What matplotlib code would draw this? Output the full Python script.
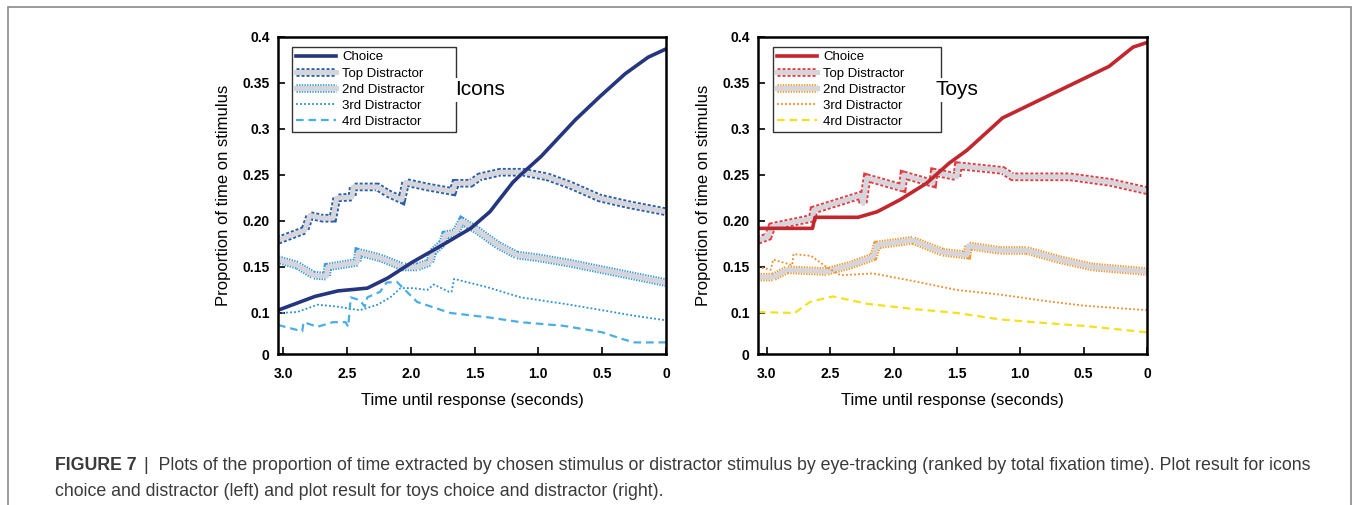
import numpy as np
import matplotlib
matplotlib.use('Agg')
import matplotlib.pyplot as plt
from matplotlib.patches import Rectangle

plt.rcParams['font.family'] = ['Liberation Sans', 'DejaVu Sans']
plt.rcParams['lines.scale_dashes'] = False

# Icons panel (left)
iconChoiceX = [3.04, 2.75, 2.57, 2.34, 2.18, 1.99, 1.75, 1.53, 1.38, 1.2, 1.14, 0.98, 0.71, 0.52, 0.32, 0.14, 0.0]
iconChoiceY = [0.103, 0.118, 0.124, 0.127, 0.138, 0.155, 0.174, 0.192, 0.21, 0.242, 0.25, 0.27, 0.31, 0.335, 0.36, 0.378, 0.387]
iconTopX = [3.04, 2.83, 2.79, 2.69, 2.61, 2.58, 2.46, 2.45, 2.26, 2.18, 2.07, 2.04, 1.87, 1.67, 1.65, 1.53, 1.46, 1.30, 1.12, 0.93, 0.75, 0.52, 0.3, 0.0]
iconTopY = [0.179, 0.19, 0.206, 0.203, 0.203, 0.225, 0.226, 0.237, 0.237, 0.23, 0.223, 0.242, 0.237, 0.232, 0.241, 0.241, 0.248, 0.253, 0.253, 0.248, 0.239, 0.225, 0.218, 0.21]
iconSecondX = [3.04, 2.89, 2.76, 2.66, 2.65, 2.42, 2.41, 2.24, 2.06, 1.95, 1.85, 1.83, 1.75, 1.73, 1.65, 1.6, 1.48, 1.32, 1.17, 1.0, 0.75, 0.5, 0.25, 0.0]
iconSecondY = [0.158, 0.152, 0.141, 0.14, 0.15, 0.155, 0.166, 0.16, 0.15, 0.15, 0.155, 0.166, 0.176, 0.185, 0.187, 0.2, 0.19, 0.174, 0.163, 0.16, 0.154, 0.147, 0.14, 0.133]
iconThirdX = [3.04, 2.89, 2.73, 2.58, 2.4, 2.26, 2.16, 2.08, 1.98, 1.87, 1.82, 1.7, 1.68, 1.66, 1.4, 1.14, 0.8, 0.5, 0.25, 0.0]
iconThirdY = [0.1, 0.101, 0.109, 0.107, 0.103, 0.109, 0.117, 0.127, 0.127, 0.125, 0.131, 0.123, 0.123, 0.137, 0.128, 0.117, 0.11, 0.103, 0.097, 0.092]
iconFourthX = [3.04, 2.85, 2.84, 2.73, 2.61, 2.51, 2.49, 2.47, 2.4, 2.36, 2.34, 2.24, 2.19, 2.11, 1.95, 1.69, 1.38, 1.14, 0.8, 0.5, 0.35, 0.25, 0.0]
iconFourthY = [0.087, 0.08, 0.09, 0.085, 0.09, 0.09, 0.085, 0.117, 0.114, 0.107, 0.117, 0.123, 0.133, 0.134, 0.112, 0.1, 0.095, 0.09, 0.086, 0.079, 0.072, 0.068, 0.068]

# Toys panel (right)
toyChoiceX = [3.07, 2.64, 2.62, 2.28, 2.13, 1.95, 1.74, 1.56, 1.42, 1.14, 0.69, 0.3, 0.11, 0.0]
toyChoiceY = [0.192, 0.192, 0.204, 0.204, 0.21, 0.223, 0.241, 0.263, 0.277, 0.312, 0.342, 0.368, 0.389, 0.394]
toyTopX = [3.07, 2.99, 2.96, 2.64, 2.63, 2.26, 2.24, 2.21, 1.93, 1.92, 1.69, 1.68, 1.5, 1.49, 1.14, 1.06, 0.61, 0.29, 0.0]
toyTopY = [0.179, 0.183, 0.194, 0.203, 0.212, 0.228, 0.219, 0.247, 0.236, 0.25, 0.241, 0.253, 0.248, 0.26, 0.255, 0.248, 0.248, 0.242, 0.233]
toySecondX = [3.07, 2.95, 2.84, 2.53, 2.34, 2.16, 2.13, 1.85, 1.61, 1.42, 1.41, 1.16, 0.95, 0.69, 0.43, 0.0]
toySecondY = [0.139, 0.139, 0.147, 0.145, 0.152, 0.161, 0.174, 0.179, 0.166, 0.163, 0.173, 0.168, 0.168, 0.158, 0.15, 0.145]
toyThirdX = [3.07, 2.97, 2.95, 2.8, 2.79, 2.65, 2.53, 2.42, 2.16, 1.82, 1.5, 1.16, 0.8, 0.5, 0.0]
toyThirdY = [0.15, 0.147, 0.158, 0.152, 0.164, 0.162, 0.15, 0.141, 0.143, 0.134, 0.125, 0.12, 0.113, 0.108, 0.103]
toyFourthX = [3.07, 2.78, 2.66, 2.48, 2.21, 1.82, 1.5, 1.16, 0.8, 0.5, 0.0]
toyFourthY = [0.101, 0.1, 0.112, 0.118, 0.11, 0.104, 0.1, 0.093, 0.089, 0.086, 0.079]

seriesNames = ['Choice', 'Top Distractor', '2nd Distractor', '3rd Distractor', '4rd Distractor']
yBottom = 0.0554  # the axis is cut: the "0" label sits at this height
yTicks = [yBottom, 0.1, 0.15, 0.2, 0.25, 0.3, 0.35, 0.4]
yTickLabels = ['0', '0.1', '0.15', '0.20', '0.25', '0.3', '0.35', '0.4']
xTicks = [3.0, 2.5, 2.0, 1.5, 1.0, 0.5, 0.0]
xTickLabels = ['3.0', '2.5', '2.0', '1.5', '1.0', '0.5', '0']

captionHead = 'FIGURE 7'
captionLine1 = '|  Plots of the proportion of time extracted by chosen stimulus or distractor stimulus by eye-tracking (ranked by total fixation time). Plot result for icons'
captionLine2 = 'choice and distractor (left) and plot result for toys choice and distractor (right).'

BAND = '#d5d5db'

def band(ax, x, y, edge, dashes):
	#gray thick line with a broken coloured outline
	outer, = ax.plot(x, y, color=edge, lw=6.2, dashes=dashes, solid_joinstyle='miter', dash_joinstyle='miter')
	inner, = ax.plot(x, y, color=BAND, lw=3.6)
	return (outer, inner)

def drawPanel(ax, data, colors, xLeft, title, legBox):
	(cx, cy), (tx, ty), (sx, sy), (thx, thy), (fx, fy) = data
	h2 = band(ax, sx, sy, colors[2], (1.0, 0.9))
	h1 = band(ax, tx, ty, colors[1], (2.2, 1.4))
	h3, = ax.plot(thx, thy, color=colors[3], lw=1.3, dashes=(1.3, 1.6))
	h4, = ax.plot(fx, fy, color=colors[4], lw=1.6, dashes=(5.5, 3.5))
	h0, = ax.plot(cx, cy, color=colors[0], lw=2.6)
	ax.set_xlim(xLeft, 0)
	ax.set_ylim(yBottom, 0.4)
	ax.set_xticks(xTicks)
	ax.set_xticklabels(xTickLabels, fontweight='bold', fontsize=10)
	ax.set_yticks(yTicks)
	ax.set_yticklabels(yTickLabels, fontweight='bold', fontsize=10)
	ax.tick_params(direction='in', length=5, width=1.2)
	ax.tick_params(axis='x', pad=9)
	ax.tick_params(axis='y', pad=6)
	for s in ax.spines.values():
		s.set_linewidth(1.8)
	ax.set_xlabel('Time until response (seconds)', fontsize=12, labelpad=9)
	ax.set_ylabel('Proportion of time on stimulus', fontsize=12, labelpad=8)
	leg = ax.legend([h0, h1, h2, h3, h4], seriesNames, loc='upper left', bbox_to_anchor=legBox,
		mode='expand', borderaxespad=0, fontsize=9.5, handlelength=3.0, handletextpad=0.5,
		labelspacing=0.3, borderpad=0.3, fancybox=False, edgecolor='#333333', framealpha=1)
	leg.get_frame().set_linewidth(1.0)
	leg.set_zorder(5)
	#the panel name sits on the legend border, with a white patch behind it
	ax.text(0.456, 0.833, title, transform=ax.transAxes, fontsize=15, va='center', ha='left', zorder=6,
		bbox=dict(facecolor='white', edgecolor='none', pad=1.5))

fig = plt.figure(figsize=(13.55, 5.05), dpi=100)
axL = fig.add_axes([278/1355, 1-354/505, 388/1355, 317/505])
axR = fig.add_axes([758/1355, 1-354/505, 389/1355, 317/505])

drawPanel(axL, [(iconChoiceX, iconChoiceY), (iconTopX, iconTopY), (iconSecondX, iconSecondY),
	(iconThirdX, iconThirdY), (iconFourthX, iconFourthY)],
	['#25367f', '#2a5ea9', '#3a9ae0', '#2a8ed8', '#4aaee6'], 3.04, 'Icons', (0.036, 0.70, 0.423, 0.268))
drawPanel(axR, [(toyChoiceX, toyChoiceY), (toyTopX, toyTopY), (toySecondX, toySecondY),
	(toyThirdX, toyThirdY), (toyFourthX, toyFourthY)],
	['#c1272d', '#e63a3f', '#f3982a', '#f28a2a', '#f3e11c'], 3.07, 'Toys', (0.0386, 0.70, 0.432, 0.268))

#page frame
fig.patches.append(Rectangle((8/1355, -0.05), 1343/1355, 1.05-7/505, transform=fig.transFigure,
	fill=False, edgecolor='#8a8a8a', linewidth=1.2))

#caption: the first line is fitted to the width it has in the page
capColor = '#3a3a3a'
size = 10.0
head = fig.text(55/1355, 1-465/505, captionHead, fontsize=size, fontweight='bold', color=capColor, va='center')
body = fig.text(130/1355, 1-465/505, captionLine1, fontsize=size, color=capColor, va='center')
r = fig.canvas.get_renderer()
for i in range(3):
	fig.canvas.draw()
	x0 = head.get_window_extent(r).x1 + 6
	body.set_x(x0 / 1355)
	size = size * (1318 - x0) / body.get_window_extent(r).width
	head.set_fontsize(size)
	body.set_fontsize(size)
fig.text(55/1355, 1-491/505, captionLine2, fontsize=size, color=capColor, va='center')

fig.savefig('out.png', dpi=100)
